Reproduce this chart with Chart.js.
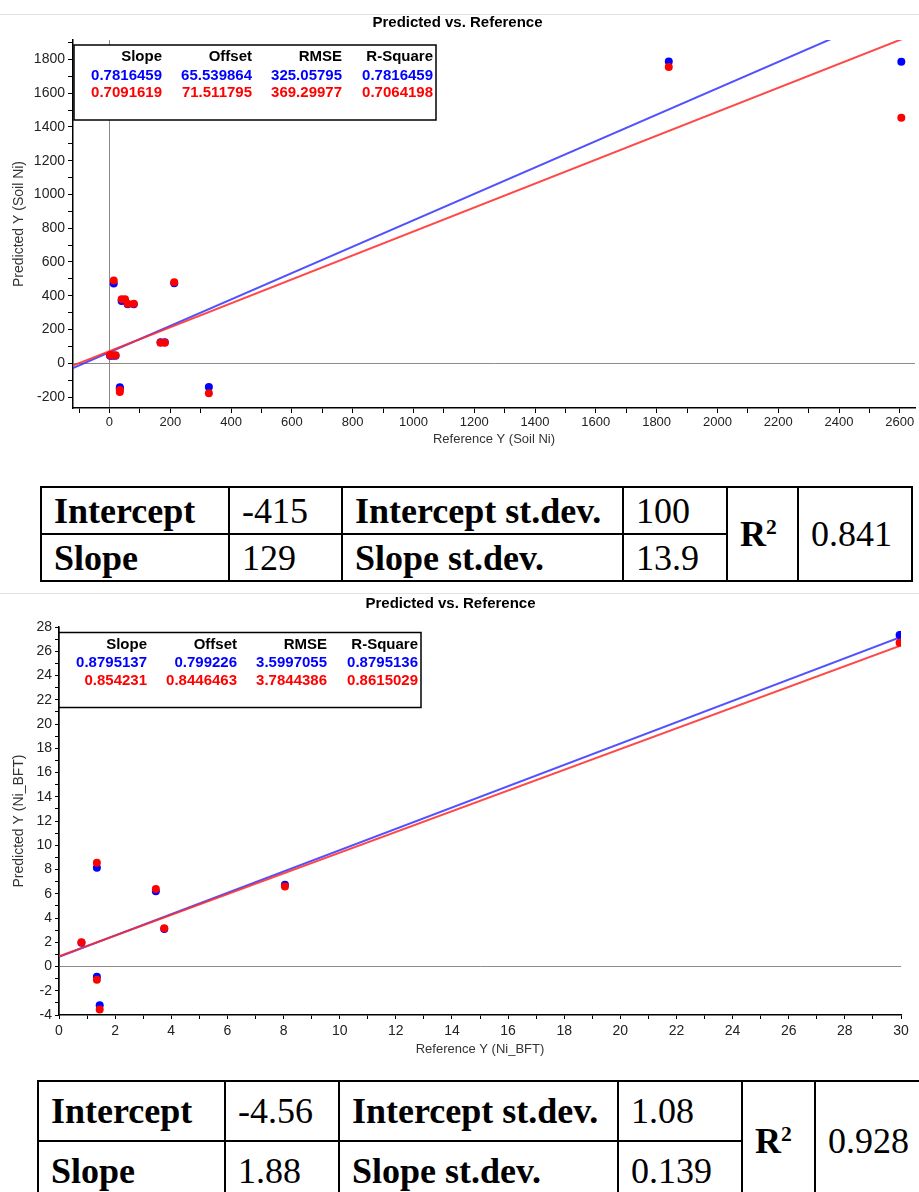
<!DOCTYPE html>
<html>
<head>
<meta charset="utf-8">
<script src="https://cdn.jsdelivr.net/npm/chart.js@4.4.0/dist/chart.umd.min.js"></script>
<style>
  body { margin: 0; width: 919px; height: 1192px; overflow: hidden; background: #fff; position: relative;
         font-family: "Liberation Sans", Arial, sans-serif; }
  .rule { position: absolute; left: 0; width: 919px; height: 1px; background: #e2e2e2; }
  .wrap { position: absolute; left: 0; width: 919px; }
  #wrapA { top: 14px; height: 436px; }
  #wrapB { top: 593px; height: 467px; }
  table.res { position: absolute; border-collapse: collapse; table-layout: fixed;
              font-family: "Liberation Serif", "Times New Roman", serif; font-size: 36px; color: #000; }
  table.res td { border: 2px solid #000; padding: 0 0 0 12px; white-space: nowrap; vertical-align: middle; }
  table.res td.b { font-weight: bold; }
  table.res sup { font-size: 0.6em; vertical-align: 0.55em; line-height: 0; }
  #tabA { left: 40px; top: 486px; width: 871px; }
  #tabA tr { height: 47px; }
  #tabB { left: 37px; top: 1080px; width: 890px; }
  #tabB tr { height: 60px; }
</style>
</head>
<body>
<div class="rule" style="top:14px"></div>
<div class="rule" style="top:593px"></div>
<div class="wrap" id="wrapA"><canvas id="chartA" width="919" height="436"></canvas></div>
<div class="wrap" id="wrapB"><canvas id="chartB" width="919" height="467"></canvas></div>
<table class="res" id="tabA"></table>
<table class="res" id="tabB"></table>

<script>
// ---- chart A (Soil Ni) ----
const refA = [2, 10, 20, 14, 40, 51, 60, 80, 168, 182, 213, 34, 34, 327, 1840, 2605];
const predA_blue = [44, 44, 44, 473, 369, 372, 349, 350, 124, 124, 474, -142, -150, -141, 1788, 1786];
const predA_red = [48, 48, 48, 490, 379, 379, 353, 353, 122, 122, 480, -158, -170, -178, 1755, 1455];
const statsA_blue = ['0.7816459', '65.539864', '325.05795', '0.7816459'];
const statsA_red = ['0.7091619', '71.511795', '369.29977', '0.7064198'];
const fitA_blue = { slope: 0.7816459, offset: 65.539864 };
const fitA_red = { slope: 0.7091619, offset: 71.511795 };
const rangeA_x = [-120, 2650];
const rangeA_y = [-265, 1915];

// ---- chart B (Ni_BFT) ----
const refB = [0.8, 1.35, 1.35, 1.45, 3.45, 3.75, 8.05, 29.95];
const predB_blue = [1.95, 8.15, -0.85, -3.2, 6.2, 3.1, 6.75, 27.35];
const predB_red = [2.0, 8.55, -1.1, -3.55, 6.4, 3.15, 6.6, 26.7];
const statsB_blue = ['0.8795137', '0.799226', '3.5997055', '0.8795136'];
const statsB_red = ['0.854231', '0.8446463', '3.7844386', '0.8615029'];
const fitB_blue = { slope: 0.8795137, offset: 0.799226 };
const fitB_red = { slope: 0.854231, offset: 0.8446463 };
const rangeB_x = [0, 30];
const rangeB_y = [-4, 28];

const statHeaders = ['Slope', 'Offset', 'RMSE', 'R-Square'];

// result tables under each chart
const tableA = { intercept: '-415', interceptSd: '100', slope: '129', slopeSd: '13.9', r2: '0.841' };
const tableB = { intercept: '-4.56', interceptSd: '1.08', slope: '1.88', slopeSd: '0.139', r2: '0.928' };

const BLUE = '#0000ff';
const RED = '#ff0000';

function fillTable(id, t, widths) {
  const el = document.getElementById(id);
  el.innerHTML =
    '<colgroup>' + widths.map(w => '<col style="width:' + w + 'px">').join('') + '</colgroup>' +
    '<tr><td class="b">Intercept</td><td>' + t.intercept + '</td><td class="b">Intercept st.dev.</td><td>' +
    t.interceptSd + '</td><td class="b" rowspan="2">R<sup>2</sup></td><td rowspan="2">' + t.r2 + '</td></tr>' +
    '<tr><td class="b">Slope</td><td>' + t.slope + '</td><td class="b">Slope st.dev.</td><td>' + t.slopeSd + '</td></tr>';
}
fillTable('tabA', tableA, [188, 113, 281, 104, 71, 114]);
fillTable('tabB', tableB, [187, 114, 279, 124, 73, 113]);

// white box with the fit statistics in the top-left corner of the plot
const statsBox = {
  id: 'statsBox',
  afterDatasetsDraw(chart, args, opts) {
    const { ctx, chartArea } = chart;
    const x0 = chartArea.left + opts.dx;
    const y0 = chartArea.top + opts.dy;
    const colX = [88, 178, 268, 359];
    ctx.save();
    ctx.fillStyle = '#fff';
    ctx.fillRect(x0, y0, 362, 75);
    ctx.strokeStyle = '#000';
    ctx.lineWidth = 1.5;
    ctx.strokeRect(x0, y0, 362, 75);
    ctx.textAlign = 'right';
    ctx.textBaseline = 'middle';
    ctx.font = 'bold 15px "Liberation Sans", Arial, sans-serif';
    ctx.fillStyle = '#000';
    statHeaders.forEach((h, i) => ctx.fillText(h, x0 + colX[i], y0 + 12));
    ctx.fillStyle = BLUE;
    opts.blue.forEach((s, i) => ctx.fillText(s, x0 + colX[i], y0 + 30.5));
    ctx.fillStyle = RED;
    opts.red.forEach((s, i) => ctx.fillText(s, x0 + colX[i], y0 + 48));
    ctx.restore();
  }
};

function fitLine(fit, range) {
  return range.map(x => ({ x: x, y: fit.slope * x + fit.offset }));
}

function makeChart(id, c) {
  const zeroGrid = {
    drawOnChartArea: true,
    color: ctx => (ctx.tick && ctx.tick.value === 0 ? '#8c8c8c' : 'rgba(0,0,0,0)'),
    tickColor: '#000',
    tickLength: c.tickLen,
    lineWidth: 1
  };
  return new Chart(document.getElementById(id), {
    type: 'scatter',
    data: {
      datasets: [
        { label: 'red', data: c.ref.map((x, i) => ({ x: x, y: c.red[i] })), backgroundColor: RED, borderWidth: 0, pointRadius: 4 },
        { label: 'blue', data: c.ref.map((x, i) => ({ x: x, y: c.blue[i] })), backgroundColor: BLUE, borderWidth: 0, pointRadius: 4 },
        { type: 'line', data: fitLine(c.fitRed, c.rangeX), borderColor: 'rgba(255,40,40,0.85)', borderWidth: 2, pointRadius: 0 },
        { type: 'line', data: fitLine(c.fitBlue, c.rangeX), borderColor: 'rgba(50,50,255,0.85)', borderWidth: 2, pointRadius: 0 }
      ]
    },
    options: {
      responsive: false,
      animation: false,
      devicePixelRatio: 1,
      layout: { padding: { left: 0, right: c.padRight, top: 0, bottom: 0 } },
      plugins: {
        legend: { display: false },
        tooltip: { enabled: false },
        title: {
          display: true,
          text: 'Predicted vs. Reference',
          color: '#000',
          font: { family: '"Liberation Sans", Arial, sans-serif', size: 15, weight: 'bold' },
          padding: c.titlePad
        },
        statsBox: { dx: c.boxDx, dy: c.boxDy, blue: c.statsBlue, red: c.statsRed }
      },
      scales: {
        x: {
          type: 'linear',
          min: c.rangeX[0],
          max: c.rangeX[1],
          afterFit: s => { s.height = c.xAxisH; },
          border: { color: '#000', width: 1.5 },
          grid: zeroGrid,
          ticks: {
            stepSize: c.xStep,
            includeBounds: false,
            autoSkip: false,
            maxRotation: 0,
            padding: c.xTickPad,
            color: '#222',
            font: { family: '"Liberation Sans", Arial, sans-serif', size: c.xTickSize },
            callback: v => (Math.round(v / c.xStep) % 2 === 0 ? v : '')
          },
          title: {
            display: true,
            text: c.xTitle,
            color: '#333',
            font: { family: '"Liberation Sans", Arial, sans-serif', size: 13 },
            padding: { top: 0, bottom: c.xTitlePad }
          }
        },
        y: {
          type: 'linear',
          min: c.rangeY[0],
          max: c.rangeY[1],
          afterFit: s => { s.width = c.yAxisW; },
          border: { color: '#000', width: 1.5 },
          grid: zeroGrid,
          ticks: {
            stepSize: c.yStep,
            includeBounds: false,
            autoSkip: false,
            padding: 3,
            color: '#222',
            font: { family: '"Liberation Sans", Arial, sans-serif', size: 14 },
            callback: v => (Math.round(v / c.yStep) % 2 === 0 ? v : '')
          },
          title: {
            display: true,
            text: c.yTitle,
            color: '#333',
            font: { family: '"Liberation Sans", Arial, sans-serif', size: 14 },
            padding: { top: 11, bottom: 0 }
          }
        }
      }
    },
    plugins: [statsBox]
  });
}

makeChart('chartA', {
  ref: refA, blue: predA_blue, red: predA_red,
  fitBlue: fitA_blue, fitRed: fitA_red,
  rangeX: rangeA_x, rangeY: rangeA_y,
  xStep: 100, yStep: 100,
  statsBlue: statsA_blue, statsRed: statsA_red,
  xTitle: 'Reference Y (Soil Ni)', yTitle: 'Predicted Y (Soil Ni)',
  titlePad: { top: 0, bottom: 8 },
  padRight: 4, yAxisW: 73, xAxisH: 42, xTickPad: 2, xTitlePad: 3, xTickSize: 13, tickLen: 5,
  boxDx: 1, boxDy: 5
});

makeChart('chartB', {
  ref: refB, blue: predB_blue, red: predB_red,
  fitBlue: fitB_blue, fitRed: fitB_red,
  rangeX: rangeB_x, rangeY: rangeB_y,
  xStep: 1, yStep: 1,
  statsBlue: statsB_blue, statsRed: statsB_red,
  xTitle: 'Reference Y (Ni_BFT)', yTitle: 'Predicted Y (Ni_BFT)',
  titlePad: { top: 2, bottom: 14 },
  padRight: 18, yAxisW: 59, xAxisH: 45, xTickPad: 4, xTitlePad: 3, xTickSize: 14, tickLen: 4,
  boxDx: 0, boxDy: 5.5
});
</script>
</body>
</html>
